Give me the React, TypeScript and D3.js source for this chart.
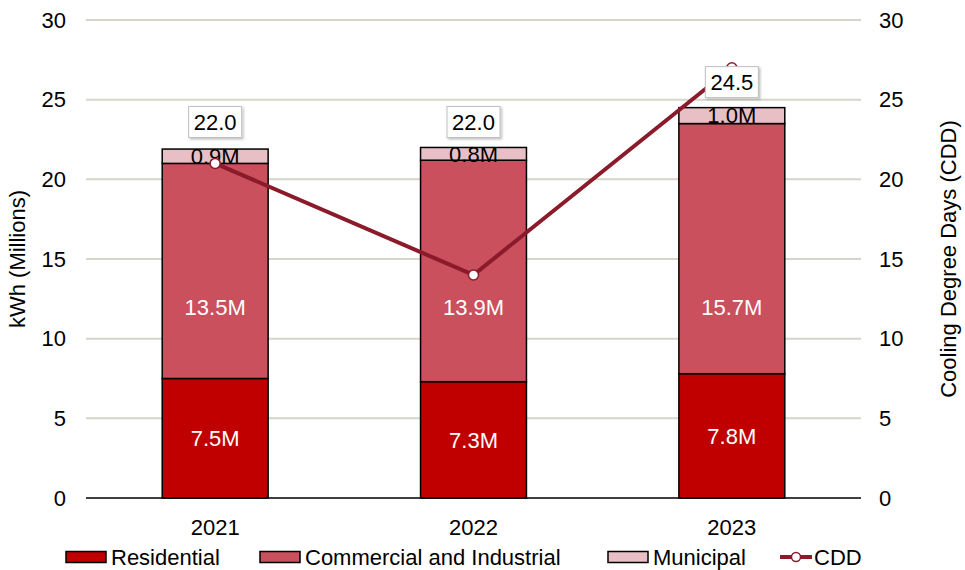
import React from "react";
import * as d3 from "d3";

const years = ["2021", "2022", "2023"];
const residential = [7.5, 7.3, 7.8];
const commercial = [13.5, 13.9, 15.7];
const municipal = [0.9, 0.8, 1.0];
const totals = [22.0, 22.0, 24.5];
const cdd = [21.0, 14.0, 27.0];
const yTicks = [0, 5, 10, 15, 20, 25, 30];
const seriesNames = ["Residential", "Commercial and Industrial", "Municipal"];
const seriesColors = ["#C00000", "#C9505C", "#E8BFC4"];
const labelColors = ["#ffffff", "#ffffff", "#000000"];
// C&I labels in the reference sit on a common level (axis value)
const commercialLabelLevel = 12.0;

const W = 965;
const H = 570;
const left = 86;
const right = 861;
const top = 20;
const bottom = 498;
const FONT = "'Liberation Sans', Arial, sans-serif";
const FS = 22;
const LINE = "#8B1A2B";

export default function App() {
  const x = d3.scaleBand<string>().domain(years).range([left, right]).paddingInner(0.59).paddingOuter(0.295);
  const y = d3.scaleLinear().domain([0, 30]).range([bottom, top]);
  const y2 = d3.scaleLinear().domain([0, 30]).range([bottom, top]);
  const rows = years.map((yr, i) => ({ year: yr, r: residential[i], c: commercial[i], m: municipal[i] }));
  const stack = d3.stack<any>().keys(["r", "c", "m"])(rows);
  const cx = (i: number) => (x(years[i]) as number) + x.bandwidth() / 2;
  const line = d3
    .line<number>()
    .x((_, i) => cx(i))
    .y((d) => y2(d));
  const values = [residential, commercial, municipal];

  const legendItems = [
    { x: 66, label: seriesNames[0], color: seriesColors[0] },
    { x: 260, label: seriesNames[1], color: seriesColors[1] },
    { x: 608, label: seriesNames[2], color: seriesColors[2] },
  ];
  const ly = 557;

  return (
    <svg width={W} height={H} style={{ position: "absolute", left: 0, top: 0, background: "#fff" }} fontFamily={FONT}>
      <defs>
        <filter id="sh" x="-20%" y="-20%" width="150%" height="150%">
          <feDropShadow dx="1.5" dy="1.5" stdDeviation="1" floodColor="#000" floodOpacity="0.25" />
        </filter>
      </defs>
      {yTicks.map((t) => (
        <line key={"g" + t} x1={left} x2={right} y1={y(t)} y2={y(t)} stroke={t === 0 ? "#000" : "#D6D5C7"} strokeWidth={t === 0 ? 1.5 : 2} />
      ))}
      {yTicks.map((t) => (
        <text key={"l" + t} x={66} y={y(t)} dy="0.35em" textAnchor="end" fontSize={FS} fill="#000">
          {t}
        </text>
      ))}
      {yTicks.map((t) => (
        <text key={"r" + t} x={879} y={y2(t)} dy="0.35em" textAnchor="start" fontSize={FS} fill="#000">
          {t}
        </text>
      ))}
      <text transform={`translate(25,${(top + bottom) / 2}) rotate(-90)`} textAnchor="middle" fontSize={FS} fill="#000">
        kWh (Millions)
      </text>
      <text transform={`translate(956,${(top + bottom) / 2}) rotate(-90)`} textAnchor="middle" fontSize={FS} fill="#000">
        Cooling Degree Days (CDD)
      </text>
      {stack.map((s, si) =>
        s.map((d, i) => (
          <rect
            key={si + "-" + i}
            x={x(years[i])}
            width={x.bandwidth()}
            y={y(d[1])}
            height={y(d[0]) - y(d[1])}
            fill={seriesColors[si]}
            stroke="#000"
            strokeWidth={1.5}
          />
        ))
      )}
      {stack.map((s, si) =>
        s.map((d, i) => (
          <text
            key={"t" + si + "-" + i}
            x={cx(i)}
            y={si === 1 ? y(commercialLabelLevel) : (y(d[0]) + y(d[1])) / 2}
            dy="0.35em"
            textAnchor="middle"
            fontSize={FS}
            fill={labelColors[si]}
          >
            {values[si][i].toFixed(1)}M
          </text>
        ))
      )}
      <path d={line(cdd) || ""} fill="none" stroke={LINE} strokeWidth={4} strokeLinejoin="round" />
      {cdd.map((v, i) => (
        <circle key={"c" + i} cx={cx(i)} cy={y2(v)} r={5} fill="#fff" stroke={LINE} strokeWidth={1.5} />
      ))}
      {totals.map((t, i) => {
        const by = y(t) - 10;
        return (
          <g key={"tot" + i}>
            <rect x={cx(i) - 26.5} y={by - 31} width={53} height={31} fill="#fff" stroke="#BFBFBF" strokeWidth={1} filter="url(#sh)" />
            <text x={cx(i)} y={by - 15.5} dy="0.35em" textAnchor="middle" fontSize={FS} fill="#000">
              {t.toFixed(1)}
            </text>
          </g>
        );
      })}
      {years.map((yr, i) => (
        <text key={"x" + yr} x={cx(i)} y={527} dy="0.35em" textAnchor="middle" fontSize={FS} fill="#000">
          {yr}
        </text>
      ))}
      {legendItems.map((it) => (
        <g key={it.label}>
          <rect x={it.x} y={ly - 5.5} width={40} height={11} fill={it.color} stroke="#000" strokeWidth={1.5} />
          <text x={it.x + 45} y={ly} dy="0.35em" fontSize={FS} fill="#000">
            {it.label}
          </text>
        </g>
      ))}
      <line x1={780} x2={812} y1={ly} y2={ly} stroke={LINE} strokeWidth={4} />
      <circle cx={796} cy={ly} r={4.5} fill="#fff" stroke={LINE} strokeWidth={1.5} />
      <text x={814} y={ly} dy="0.35em" fontSize={FS} fill="#000">
        CDD
      </text>
    </svg>
  );
}
